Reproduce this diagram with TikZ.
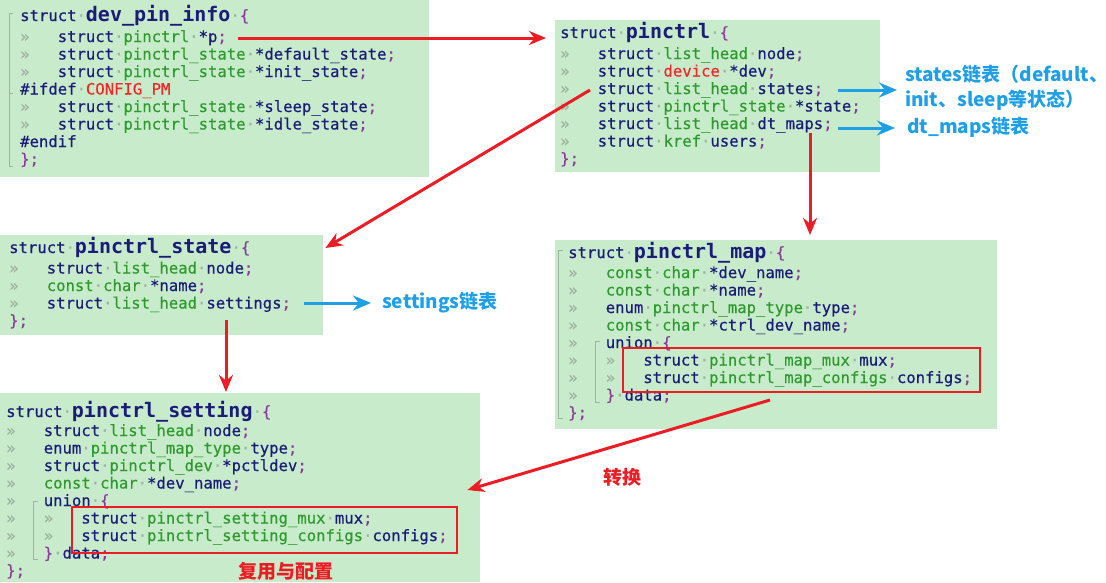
\documentclass[tikz,border=0pt]{standalone}
\usepackage{fontspec}
\setmonofont{DejaVu Sans Mono}[UprightFeatures={FakeBold=0.4}]
\newfontfamily\cjkfont{Noto Sans CJK SC}
\usetikzlibrary{arrows.meta}

\definecolor{codebg}{HTML}{C8ECCB}
\definecolor{codenavy}{HTML}{1B1B78}
\definecolor{tygreen}{HTML}{2E9A2E}
\definecolor{punct}{HTML}{8A3B9A}
\definecolor{macred}{HTML}{F02828}
\definecolor{markgray}{HTML}{9FB3A2}
\definecolor{arrred}{HTML}{EC1C24}
\definecolor{noteblue}{HTML}{1E9FE6}

% token colours of the listings
\newcommand\ty[1]{\textcolor{tygreen}{#1}}
\newcommand\pu[1]{\textcolor{punct}{#1}}
\newcommand\mc[1]{\textcolor{macred}{#1}}
\newcommand\sd{\textcolor{markgray}{·}}
\newcommand\tb{\textcolor{markgray}{»}\phantom{xxx}}
\newcommand\nm[1]{{\fontsize{20}{20}\selectfont\bfseries #1}}

\begin{document}
\begin{tikzpicture}[x=1pt,y=-1pt,
  codebox/.style={fill=codebg,draw=none,anchor=north west,inner sep=0},
  codeln/.style={anchor=base west,inner sep=0,text=codenavy,
    font=\ttfamily\fontsize{15.6}{17.5}\selectfont},
  selbox/.style={draw=arrred,line width=1.8pt,inner sep=0},
  redarrow/.style={draw=arrred,line width=3pt,-{Stealth[length=17pt,width=14pt]}},
  bluearrow/.style={draw=noteblue,line width=3pt,-{Stealth[length=18pt,width=15pt]}},
  note/.style={text=noteblue,font=\cjkfont\bfseries\fontsize{19}{25}\selectfont,
    inner sep=0,anchor=west,align=left},
  rednote/.style={text=arrred,font=\cjkfont\bfseries\fontsize{19}{19}\selectfont,inner sep=0},
  fold/.style={draw=markgray,line width=0.8pt}]

  \useasboundingbox (0,0) rectangle (1106,582);

  % green code panels
  \node[codebox,minimum width=429,minimum height=177] (pinfoBox) at (0,0) {};
  \node[codebox,minimum width=325,minimum height=152] (pinctrlBox) at (555,20) {};
  \node[codebox,minimum width=323,minimum height=100] (stateBox) at (0,235) {};
  \node[codebox,minimum width=442,minimum height=189] (mapBox) at (555,240) {};
  \node[codebox,minimum width=480,minimum height=189] (settingBox) at (0,393) {};

  % struct dev_pin_info
  \node[codeln] (pinfoT) at (20,21) {struct\sd\nm{dev\_pin\_info}\sd\pu{\{}};
  \foreach \codetxt [count=\i from 0] in {
      {\tb struct\sd\ty{pinctrl}\sd*p\pu{;}},
      {\tb struct\sd\ty{pinctrl\_state}\sd*default\_state\pu{;}},
      {\tb struct\sd\ty{pinctrl\_state}\sd*init\_state\pu{;}},
      {\#ifdef\sd\mc{CONFIG\_PM}},
      {\tb struct\sd\ty{pinctrl\_state}\sd*sleep\_state\pu{;}},
      {\tb struct\sd\ty{pinctrl\_state}\sd*idle\_state\pu{;}},
      {\#endif},
      {\pu{\};}}}
    \node[codeln] (pinfo\i) at (20,42+17.5*\i) {\codetxt};
  \draw[fold] (13,13) -- (9,13) -- (9,166) -- (13,166);
  \draw[fold] (9,93) -- (13,93);

  % struct pinctrl
  \node[codeln] (pinctrlT) at (560,38) {struct\sd\nm{pinctrl}\sd\pu{\{}};
  \foreach \codetxt [count=\i from 0] in {
      {\tb struct\sd\ty{list\_head}\sd node\pu{;}},
      {\tb struct\sd\mc{device}\sd*dev\pu{;}},
      {\tb struct\sd\ty{list\_head}\sd states\pu{;}},
      {\tb struct\sd\ty{pinctrl\_state}\sd*state\pu{;}},
      {\tb struct\sd\ty{list\_head}\sd dt\_maps\pu{;}},
      {\tb struct\sd\ty{kref}\sd users\pu{;}},
      {\pu{\};}}}
    \node[codeln] (pinctrl\i) at (560,59+17.5*\i) {\codetxt};

  % struct pinctrl_state
  \node[codeln] (stateT) at (9,253) {struct\sd\nm{pinctrl\_state}\sd\pu{\{}};
  \foreach \codetxt [count=\i from 0] in {
      {\tb struct\sd\ty{list\_head}\sd node\pu{;}},
      {\tb\ty{const}\sd\ty{char}\sd*name\pu{;}},
      {\tb struct\sd\ty{list\_head}\sd settings\pu{;}},
      {\pu{\};}}}
    \node[codeln] (state\i) at (9,273.5+17.5*\i) {\codetxt};

  % struct pinctrl_map
  \node[codeln] (mapT) at (568,258) {struct\sd\nm{pinctrl\_map}\sd\pu{\{}};
  \foreach \codetxt [count=\i from 0] in {
      {\tb\ty{const}\sd\ty{char}\sd*dev\_name\pu{;}},
      {\tb\ty{const}\sd\ty{char}\sd*name\pu{;}},
      {\tb enum\sd\ty{pinctrl\_map\_type}\sd type\pu{;}},
      {\tb\ty{const}\sd\ty{char}\sd*ctrl\_dev\_name\pu{;}},
      {\tb union\sd\pu{\{}},
      {\tb\tb struct\sd\ty{pinctrl\_map\_mux}\sd mux\pu{;}},
      {\tb\tb struct\sd\ty{pinctrl\_map\_configs}\sd configs\pu{;}},
      {\tb\pu{\}}\sd data\pu{;}},
      {\pu{\};}}}
    \node[codeln] (map\i) at (568,278+17.5*\i) {\codetxt};
  \draw[fold] (563,250) -- (558,250) -- (558,418) -- (563,418);
  \draw[fold] (600,341) -- (595,341) -- (595,402) -- (600,402);

  % struct pinctrl_setting
  \node[codeln] (settingT) at (6,417) {struct\sd\nm{pinctrl\_setting}\sd\pu{\{}};
  \foreach \codetxt [count=\i from 0] in {
      {\tb struct\sd\ty{list\_head}\sd node\pu{;}},
      {\tb enum\sd\ty{pinctrl\_map\_type}\sd type\pu{;}},
      {\tb struct\sd\ty{pinctrl\_dev}\sd*pctldev\pu{;}},
      {\tb\ty{const}\sd\ty{char}\sd*dev\_name\pu{;}},
      {\tb union\sd\pu{\{}},
      {\tb\tb struct\sd\ty{pinctrl\_setting\_mux}\sd mux\pu{;}},
      {\tb\tb struct\sd\ty{pinctrl\_setting\_configs}\sd configs\pu{;}},
      {\tb\pu{\}}\sd data\pu{;}},
      {\pu{\};}}}
    \node[codeln] (setting\i) at (6,436+17.5*\i) {\codetxt};
  \draw[fold] (38,501) -- (33,501) -- (33,559) -- (38,559);

  % highlighted unions
  \node[selbox,minimum width=357,minimum height=44] (mapSel) at (801.5,370) {};
  \node[selbox,minimum width=385,minimum height=46] (settingSel) at (264.5,530) {};

  % notes
  \node[note] (statesNote) at (905,88) {states链表（default、\\init、sleep等状态）};
  \node[note] (mapsNote) at (907,127) {dt\_maps链表};
  \node[note] (settingsNote) at (382,303) {settings链表};
  \node[rednote] (cvtNote) at (622,477) {转换};
  \node[rednote] (muxNote) at (286,571) {复用与配置};

  % red links
  \coordinate (pField) at (238,38);
  \coordinate (statesField) at (590,90);
  \coordinate (mapsField) at (810,133);
  \coordinate (settingsField) at (226,320);
  \coordinate (cvtStart) at (770,400);
  \draw[redarrow,shorten >=9pt] (pField) -- (pinctrlBox.west |- pField);
  \draw[redarrow] (statesField) -- ([shift={(2,13)}]stateBox.north east);
  \draw[redarrow,shorten >=5pt] (mapsField) -- (mapsField |- mapBox.north);
  \draw[redarrow,shorten >=1pt] (settingsField) -- (settingsField |- settingBox.north);
  \draw[redarrow] (cvtStart) -- ([shift={(-13,97)}]settingBox.north east);

  % blue links
  \coordinate (statesEnd) at (838,90);
  \coordinate (mapsEnd) at (838,128);
  \coordinate (settingsEnd) at (304,303);
  \draw[bluearrow,shorten >=8pt] (statesEnd) -- (statesNote.west |- statesEnd);
  \draw[bluearrow,shorten >=12pt] (mapsEnd) -- (mapsNote.west |- mapsEnd);
  \draw[bluearrow,shorten >=11pt] (settingsEnd) -- (settingsNote.west |- settingsEnd);
\end{tikzpicture}
\end{document}
